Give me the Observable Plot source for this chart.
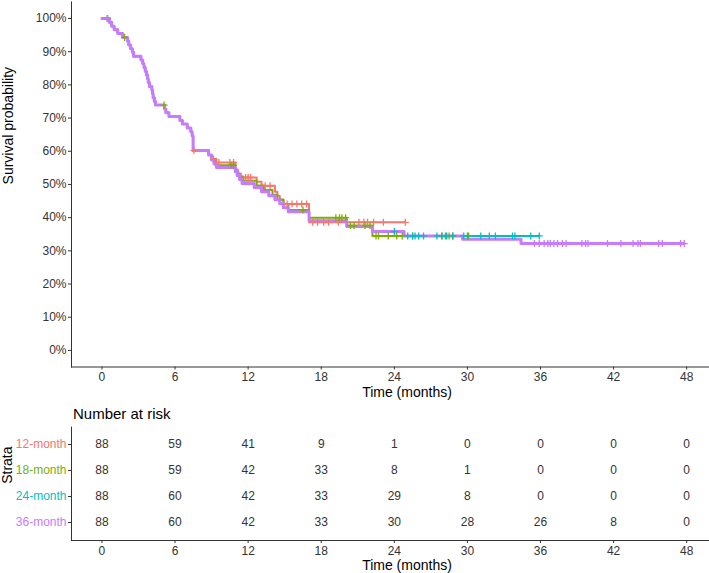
<!DOCTYPE html>
<html><head><meta charset="utf-8">
<script src="https://cdn.jsdelivr.net/npm/d3@7"></script>
<script src="https://cdn.jsdelivr.net/npm/@observablehq/plot@0.6"></script>
<style>
body{margin:0;background:#fff;}
#chart{width:709px;height:573px;overflow:hidden;}
#chart svg{display:block;}
</style></head><body><div id="chart"></div>
<script>
// ---------- data ----------
const strata = ["12-month", "18-month", "24-month", "36-month"];
const colors = ["#F8766D", "#7CAE00", "#00BFC4", "#C77CFF"];
const yTicks = [0, 0.1, 0.2, 0.3, 0.4, 0.5, 0.6, 0.7, 0.8, 0.9, 1.0];
const timeTicks = [0, 6, 12, 18, 24, 30, 36, 42, 48];

// shared early part of the Kaplan-Meier curves (identical for all strata)
const commonT = [0, 0.6, 0.8, 1.0, 1.3, 1.7, 2.1, 2.2, 2.35, 2.5, 2.6, 3.2, 3.35, 3.45, 3.55, 3.65, 3.75, 3.8, 3.9, 4.1, 4.15, 4.2, 4.3, 4.4, 5.15, 5.25, 5.5, 6.4, 6.6, 7.0, 7.3, 7.4, 7.48];
const commonS = [1.0, 0.989, 0.977, 0.966, 0.955, 0.943, 0.932, 0.920, 0.909, 0.898, 0.886, 0.875, 0.864, 0.852, 0.841, 0.830, 0.818, 0.807, 0.795, 0.784, 0.773, 0.761, 0.750, 0.739, 0.727, 0.716, 0.705, 0.693, 0.682, 0.670, 0.659, 0.647, 0.602];

// stratum-specific steps after the common part
const t12 = [8.76, 9.0, 9.4, 10.95, 11.15, 11.4, 12.7, 13.1, 14.2, 14.4, 14.6, 14.9, 17.0];
const s12 = [0.589, 0.577, 0.566, 0.545, 0.533, 0.521, 0.508, 0.496, 0.478, 0.465, 0.453, 0.441, 0.386];
const t18 = [8.76, 9.0, 9.3, 10.95, 11.2, 11.6, 12.7, 13.3, 14.0, 14.4, 14.9, 15.3, 17.0, 20.1, 22.2];
const s18 = [0.589, 0.577, 0.558, 0.537, 0.524, 0.511, 0.497, 0.483, 0.469, 0.455, 0.441, 0.423, 0.400, 0.376, 0.345];
const t24 = [8.76, 9.0, 9.2, 9.4, 10.95, 11.1, 11.3, 11.5, 12.5, 13.1, 13.7, 14.2, 14.6, 14.9, 15.3, 17.0, 20.1, 22.2, 24.8];
const s24 = [0.589, 0.574, 0.562, 0.551, 0.539, 0.527, 0.515, 0.503, 0.491, 0.478, 0.466, 0.454, 0.442, 0.430, 0.418, 0.391, 0.373, 0.358, 0.345];
const t36 = [8.76, 9.0, 9.2, 9.4, 10.95, 11.1, 11.3, 11.5, 12.5, 13.1, 13.7, 14.2, 14.6, 14.9, 15.3, 17.0, 20.1, 22.2, 24.8, 29.6, 34.4];
const s36 = [0.589, 0.574, 0.562, 0.551, 0.539, 0.527, 0.515, 0.503, 0.491, 0.478, 0.466, 0.454, 0.442, 0.430, 0.418, 0.391, 0.373, 0.358, 0.345, 0.335, 0.322];
const lastTime = [24.9, 30.1, 35.9, 47.8];

// censoring times (+ marks)
const cens12 = [0.45, 7.55, 9.15, 9.6, 10.5, 10.8, 11.8, 12.0, 12.2, 13.4, 13.8, 15.2, 15.6, 16.0, 16.4, 16.8, 17.3, 17.7, 18.2, 18.6, 19.4, 21.1, 21.5, 21.8, 22.3, 23.1, 24.9];
const cens18 = [0.45, 1.86, 5.1, 10.6, 10.8, 16.5, 19.2, 19.5, 19.7, 20.0, 20.4, 20.7, 21.6, 22.0, 22.5, 22.7, 23.5, 24.2, 24.65, 25.5, 27.9, 28.2, 28.5, 28.8, 30.1];
const cens24 = [0.45, 24.0, 25.1, 25.5, 25.7, 26.0, 26.4, 27.5, 27.9, 28.3, 28.8, 29.7, 30.0, 31.1, 31.8, 32.3, 33.7, 33.9, 35.2, 35.9];
const cens36 = [0.45, 35.5, 35.9, 36.3, 36.6, 36.8, 37.1, 37.4, 37.8, 38.1, 39.4, 39.7, 39.9, 41.5, 42.6, 43.6, 44.0, 44.2, 45.7, 46.0, 47.5, 47.8];

// number at risk table
const risk12 = [88, 59, 41, 9, 1, 0, 0, 0, 0];
const risk18 = [88, 59, 42, 33, 8, 1, 0, 0, 0];
const risk24 = [88, 60, 42, 33, 29, 8, 0, 0, 0];
const risk36 = [88, 60, 42, 33, 30, 28, 26, 8, 0];

// ---------- build tables ----------
const ownT = [t12, t18, t24, t36], ownS = [s12, s18, s24, s36];
const censAll = [cens12, cens18, cens24, cens36];
const riskAll = [risk12, risk18, risk24, risk36];

const curves = strata.map((name, i) => {
  const T = commonT.concat(ownT[i]);
  const S = commonS.concat(ownS[i]);
  const rows = T.map((t, j) => ({strata: name, time: t, surv: S[j]}));
  rows.push({strata: name, time: lastTime[i], surv: S[S.length - 1]});
  return rows;
});
function survAt(rows, t) {
  let s = rows[0].surv;
  for (const r of rows) if (r.time <= t) s = r.surv;
  return s;
}
const censorRows = strata.flatMap((name, i) =>
  censAll[i].map(t => ({strata: name, time: t, surv: survAt(curves[i], t)})));
const riskRows = strata.flatMap((name, i) =>
  timeTicks.map((t, j) => ({strata: name, time: t, n: riskAll[i][j]})));

// ---------- layout ----------
const W = 709, mL = 71;
const xDomain = [-2.5, -2.5 + 55 * (W - mL) / 670];
const font = "'Liberation Sans', Arial, sans-serif";
const colorScale = {domain: strata, range: colors};

const main = Plot.plot({
  width: W, height: 400,
  marginLeft: mL, marginRight: 0, marginTop: 1.4, marginBottom: 33.5,
  style: {fontFamily: font, fontSize: "12px", background: "white", overflow: "hidden"},
  x: {domain: xDomain},
  y: {domain: [-0.05, 1.05]},
  color: colorScale,
  marks: [
    Plot.axisY({ticks: yTicks, tickFormat: d => Math.round(d * 100) + "%", tickSize: 3, tickPadding: 2, fontSize: 12, color: "#333", label: null}),
    Plot.axisX({ticks: timeTicks, tickSize: 3, tickPadding: 2.5, fontSize: 12, color: "#333", label: null}),
    Plot.frame({anchor: "left", stroke: "#333"}),
    Plot.frame({anchor: "bottom", stroke: "#333"}),
    ...curves.map((rows, i) => Plot.line(rows, {x: "time", y: "surv", stroke: "strata", curve: "step-after", strokeWidth: i === 3 ? 3 : 2})),
    Plot.dot(censorRows, {x: "time", y: "surv", stroke: "strata", symbol: "plus", r: 2.4, strokeWidth: 1.3}),
    Plot.text(["Time (months)"], {frameAnchor: "bottom", lineAnchor: "middle", dy: 25.5, dx: 16.5, fontSize: 14, fill: "black"}),
    Plot.text(["Survival probability"], {frameAnchor: "left", rotate: -90, dx: 8.5 - mL, fontSize: 14, fill: "black"})
  ]
});

const table = Plot.plot({
  width: W, height: 173,
  marginLeft: mL, marginRight: 0, marginTop: 26.7, marginBottom: 33,
  style: {fontFamily: font, fontSize: "12px", background: "white", overflow: "hidden"},
  x: {domain: xDomain},
  y: {type: "point", domain: strata, padding: 0.6},
  color: colorScale,
  marks: [
    Plot.axisY({tickSize: 3, tickFormat: () => "", color: "#333", label: null}),
    Plot.axisX({ticks: timeTicks, tickSize: 3, tickPadding: 2.5, fontSize: 12, color: "#333", label: null}),
    Plot.frame({anchor: "left", stroke: "#333"}),
    Plot.frame({anchor: "bottom", stroke: "#333"}),
    Plot.text(strata, {y: d => d, text: d => d, frameAnchor: "left", textAnchor: "end", dx: -5, fill: d => d, fontSize: 12}),
    Plot.text(riskRows, {x: "time", y: "strata", text: d => String(d.n), fill: "#333", fontSize: 12}),
    Plot.text(["Number at risk"], {frameAnchor: "top-left", lineAnchor: "middle", textAnchor: "start", dx: 1.5, dy: -12.7, fontSize: 15, fill: "black"}),
    Plot.text(["Time (months)"], {frameAnchor: "bottom", lineAnchor: "middle", dy: 25, dx: 16.5, fontSize: 14, fill: "black"}),
    Plot.text(["Strata"], {frameAnchor: "left", rotate: -90, dx: 7 - mL, fontSize: 14, fill: "black"})
  ]
});

const box = document.getElementById("chart");
box.appendChild(main);
box.appendChild(table);
</script>
</body></html>
